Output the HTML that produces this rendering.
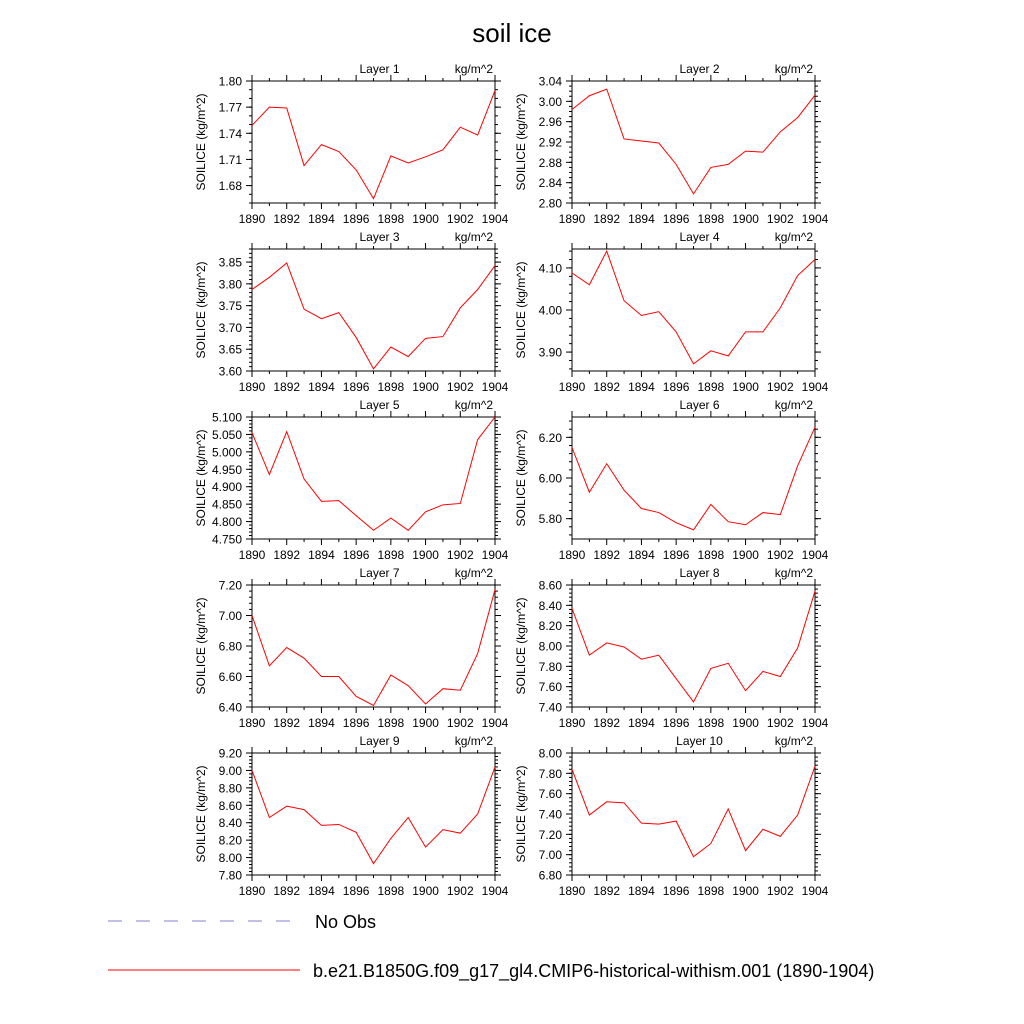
<!DOCTYPE html>
<html><head><meta charset="utf-8"><style>
body{margin:0;background:#fff;}
svg{display:block;font-family:"Liberation Sans",sans-serif;}
</style></head><body>
<svg id="chart" width="1024" height="1024" viewBox="0 0 1024 1024">
<text x="512" y="42" font-size="26" text-anchor="middle">soil ice</text>
<g id="panels"></g>
<g>
<line x1="108" y1="921" x2="300" y2="921" stroke="#8080d0" stroke-width="1" stroke-dasharray="14,14"/>
<text x="315" y="928" font-size="18">No Obs</text>
<line x1="108" y1="970" x2="300" y2="970" stroke="#ff0000" stroke-width="1"/>
<text x="313" y="977" font-size="18">b.e21.B1850G.f09_g17_gl4.CMIP6-historical-withism.001 (1890-1904)</text>
</g>
</svg>
<script>
const years=[1890,1891,1892,1893,1894,1895,1896,1897,1898,1899,1900,1901,1902,1903,1904];
const layer1=[1.749,1.770,1.769,1.703,1.727,1.719,1.698,1.665,1.714,1.706,1.713,1.721,1.747,1.738,1.789];
const layer2=[2.984,3.011,3.024,2.926,2.922,2.918,2.876,2.818,2.870,2.876,2.902,2.900,2.940,2.968,3.012];
const layer3=[3.787,3.815,3.848,3.742,3.720,3.734,3.677,3.605,3.655,3.633,3.675,3.679,3.745,3.787,3.842];
const layer4=[4.088,4.060,4.140,4.022,3.987,3.996,3.948,3.872,3.903,3.891,3.948,3.948,4.005,4.082,4.120];
const layer5=[5.055,4.935,5.058,4.922,4.858,4.860,4.817,4.775,4.810,4.775,4.828,4.848,4.852,5.035,5.100];
const layer6=[6.15,5.93,6.07,5.94,5.85,5.83,5.78,5.745,5.87,5.785,5.77,5.83,5.82,6.06,6.25];
const layer7=[7.00,6.67,6.79,6.72,6.60,6.60,6.47,6.41,6.61,6.54,6.42,6.52,6.51,6.75,7.17];
const layer8=[8.37,7.91,8.03,7.99,7.87,7.91,7.68,7.45,7.78,7.83,7.56,7.75,7.70,7.98,8.54];
const layer9=[9.00,8.46,8.59,8.55,8.37,8.38,8.29,7.93,8.22,8.46,8.12,8.32,8.28,8.50,9.04];
const layer10=[7.84,7.39,7.52,7.51,7.31,7.30,7.33,6.98,7.11,7.45,7.04,7.25,7.18,7.39,7.87];
const series=[layer1,layer2,layer3,layer4,layer5,layer6,layer7,layer8,layer9,layer10];
const yMins=[1.66,2.80,3.60,3.855,4.75,5.70,6.40,7.40,7.80,6.80];
const yMaxs=[1.80,3.04,3.88,4.145,5.10,6.30,7.20,8.60,9.20,8.00];
const yStarts=[1.68,2.80,3.60,3.90,4.75,5.80,6.40,7.40,7.80,6.80];
const yMajor=[0.03,0.04,0.05,0.10,0.05,0.20,0.20,0.20,0.20,0.20];
const yMinor=[0.01,0.01,0.01,0.02,0.01,0.04,0.04,0.04,0.04,0.04];
const yDigits=[2,2,2,2,3,2,2,2,2,2];
const xTickLabels=["1890","1892","1894","1896","1898","1900","1902","1904"];

const NS="http://www.w3.org/2000/svg";
const root=document.getElementById('panels');
function mk(tag,attrs,parent){const e=document.createElementNS(NS,tag);for(const k in attrs)e.setAttribute(k,attrs[k]);parent.appendChild(e);return e;}
const W=243,H=122;
series.forEach((vals,i)=>{
  const col=i%2,row=Math.floor(i/2);
  const x0=col?572:252, y0=81+row*168;
  const g=mk('g',{},root);
  
  
  const xs=yr=>x0+(yr-1890)/14*W;
  const ys=v=>y0+H-(v-yMins[i])/(yMaxs[i]-yMins[i])*H;
  const frame=mk('rect',{x:x0,y:y0,width:W,height:H,fill:'none',stroke:'#000','stroke-width':1},g);
  
  
  // x ticks
  years.forEach(yr=>{
    const x=xs(yr), L=(yr%2===0)?6:3;
    mk('line',{x1:x,y1:y0+H,x2:x,y2:y0+H+L,stroke:'#000'},g);
    mk('line',{x1:x,y1:y0,x2:x,y2:y0-L,stroke:'#000'},g);
  });
  xTickLabels.forEach(s=>{
    const t=mk('text',{x:xs(+s),y:y0+H+20,'font-size':12,'text-anchor':'middle'},g);
    t.textContent=s;
    
    
  });
  // y minor ticks
  for(let v=yMins[i];v<=yMaxs[i]+1e-9;v+=yMinor[i]){
    const vv=Math.round(v/yMinor[i])*yMinor[i];
    if(vv<yMins[i]-1e-9||vv>yMaxs[i]+1e-9)continue;
    const y=ys(vv);
    mk('line',{x1:x0,y1:y,x2:x0-3,y2:y,stroke:'#000'},g);
    mk('line',{x1:x0+W,y1:y,x2:x0+W+3,y2:y,stroke:'#000'},g);
  }
  for(let k=0;;k++){
    const v=yStarts[i]+k*yMajor[i];
    if(v>yMaxs[i]+1e-9)break;
    const y=ys(v);
    mk('line',{x1:x0,y1:y,x2:x0-6,y2:y,stroke:'#000'},g);
    mk('line',{x1:x0+W,y1:y,x2:x0+W+6,y2:y,stroke:'#000'},g);
    const t=mk('text',{x:x0-10,y:y+4.5,'font-size':12,'text-anchor':'end'},g);
    t.textContent=v.toFixed(yDigits[i]);
    
    
  }
  const yt=mk('text',{x:0,y:0,'font-size':12,'text-anchor':'middle',transform:`translate(${x0-47},${y0+H/2}) rotate(-90)`},g);
  yt.textContent='SOILICE  (kg/m^2)';
  
  
  yt.setAttribute('xml:space','preserve');
  const lt=mk('text',{x:x0+W/2+6,y:y0-8,'font-size':12,'text-anchor':'middle'},g);
  lt.textContent='Layer '+(i+1);
  
  
  const ut=mk('text',{x:x0+W-2,y:y0-8,'font-size':12,'text-anchor':'end'},g);
  ut.textContent='kg/m^2';
  
  
  const pts=vals.map((v,j)=>xs(years[j]).toFixed(2)+','+ys(v).toFixed(2)).join(' ');
  const pl=mk('polyline',{points:pts,fill:'none',stroke:'#ff0000','stroke-width':1},g);
  
  
});
</script>
</body></html>
